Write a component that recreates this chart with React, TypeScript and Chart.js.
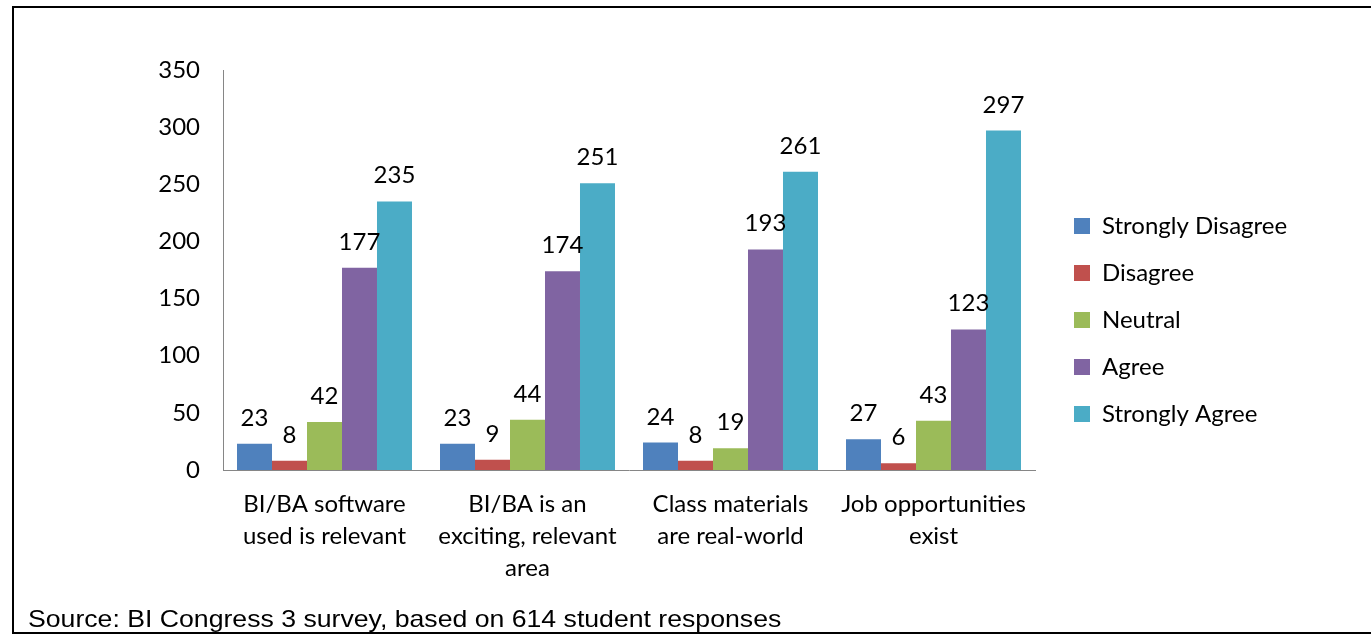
import React, { useEffect, useRef } from "react";
import { Chart, registerables } from "chart.js";

Chart.register(...registerables);

const categories: string[][] = [
  ["BI/BA software", "used is relevant"],
  ["BI/BA is an", "exciting, relevant", "area"],
  ["Class materials", "are real-world"],
  ["Job opportunities", "exist"],
];
const seriesNames = ["Strongly Disagree", "Disagree", "Neutral", "Agree", "Strongly Agree"];
const seriesColors = ["#4F81BD", "#C0504D", "#9BBB59", "#8064A2", "#4BACC6"];
const stronglyDisagree = [23, 23, 24, 27];
const disagree = [8, 9, 8, 6];
const neutral = [42, 44, 19, 43];
const agree = [177, 174, 193, 123];
const stronglyAgree = [235, 251, 261, 297];
const yMin = 0;
const yMax = 350;
const yStep = 50;
const sourceText = "Source: BI Congress 3 survey, based on 614 student responses";

const FONT = "Lato, 'Open Sans', sans-serif";
const FS = 24;
const TARGET = { left: 223, right: 1035, top: 70, bottom: 470 };
const LEGEND_SHIFT_X = 16;
const LEGEND_SHIFT_Y = -10;

const dataLabelsPlugin = {
  id: "dataLabels",
  afterDatasetsDraw(chart: any) {
    const ctx = chart.ctx;
    ctx.save();
    ctx.font = `${FS}px ${FONT}`;
    ctx.fillStyle = "#000";
    ctx.textAlign = "center";
    ctx.textBaseline = "alphabetic";
    chart.data.datasets.forEach((ds: any, di: number) => {
      const meta = chart.getDatasetMeta(di);
      meta.data.forEach((bar: any, i: number) => {
        ctx.fillText(String(ds.data[i]), bar.x, bar.y - 18);
      });
    });
    ctx.restore();
  },
};

const legendShiftPlugin = {
  id: "legendShift",
  afterLayout(chart: any) {
    const lg = chart.legend;
    if (lg) {
      lg.left += LEGEND_SHIFT_X;
      lg.right += LEGEND_SHIFT_X;
      lg.top += LEGEND_SHIFT_Y;
      lg.bottom += LEGEND_SHIFT_Y;
    }
  },
};

export default function App() {
  const canvasRef = useRef<HTMLCanvasElement | null>(null);

  useEffect(() => {
    const canvas = canvasRef.current;
    if (!canvas) return;
    const allSeries = [stronglyDisagree, disagree, neutral, agree, stronglyAgree];
    const chart = new Chart(canvas, {
      type: "bar",
      data: {
        labels: categories,
        datasets: allSeries.map((d, i) => ({
          label: seriesNames[i],
          data: d,
          backgroundColor: seriesColors[i],
          borderWidth: 0,
          categoryPercentage: 0.862,
          barPercentage: 1,
        })),
      },
      options: {
        animation: false,
        responsive: false,
        maintainAspectRatio: false,
        layout: { padding: { top: TARGET.top, bottom: 45, left: 143, right: 60 } },
        plugins: {
          legend: {
            position: "right",
            align: "center",
            labels: {
              boxWidth: 16,
              boxHeight: 16,
              padding: 23,
              color: "#000",
              font: { family: FONT, size: FS },
            },
          },
          tooltip: { enabled: false },
          title: { display: false },
        },
        scales: {
          x: {
            grid: { display: false, drawTicks: false },
            border: { display: true, color: "#868686", width: 1 },
            ticks: {
              color: "#000",
              padding: 18,
              maxRotation: 0,
              font: { family: FONT, size: FS, lineHeight: 32 / FS },
            },
            afterFit: (s: any) => {
              s.height = 120;
            },
          },
          y: {
            min: yMin,
            max: yMax,
            grid: { display: false, drawTicks: false },
            border: { display: true, color: "#868686", width: 1 },
            ticks: {
              stepSize: yStep,
              color: "#000",
              padding: 23,
              font: { family: FONT, size: FS },
            },
            afterFit: (s: any) => {
              s.width = 80;
            },
          },
        },
      },
      plugins: [dataLabelsPlugin, legendShiftPlugin],
    });
    const dx = chart.chartArea.right - TARGET.right;
    if (Math.abs(dx) > 0.5) {
      const p: any = chart.options.layout!.padding;
      chart.options.layout!.padding = { ...p, right: p.right + dx };
      chart.update();
    }
    return () => chart.destroy();
  }, []);

  return (
    <div style={{ position: "fixed", left: 0, top: 0, width: 1371, height: 635, background: "#fff", overflow: "hidden" }}>
      <div
        style={{
          position: "absolute",
          left: 12,
          top: 6,
          width: 1380,
          height: 628,
          border: "2px solid #000",
          boxSizing: "border-box",
        }}
      />
      <canvas ref={canvasRef} width={1371} height={635} style={{ position: "absolute", left: 0, top: 0 }} />
      <div
        style={{
          position: "absolute",
          left: 28,
          top: 605,
          fontFamily: "'Liberation Sans', Arial, sans-serif",
          fontSize: 24,
          lineHeight: "28px",
          color: "#000",
          whiteSpace: "nowrap",
          transformOrigin: "0 0",
          transform: "scaleX(1.11)",
        }}
      >
        {sourceText}
      </div>
    </div>
  );
}
